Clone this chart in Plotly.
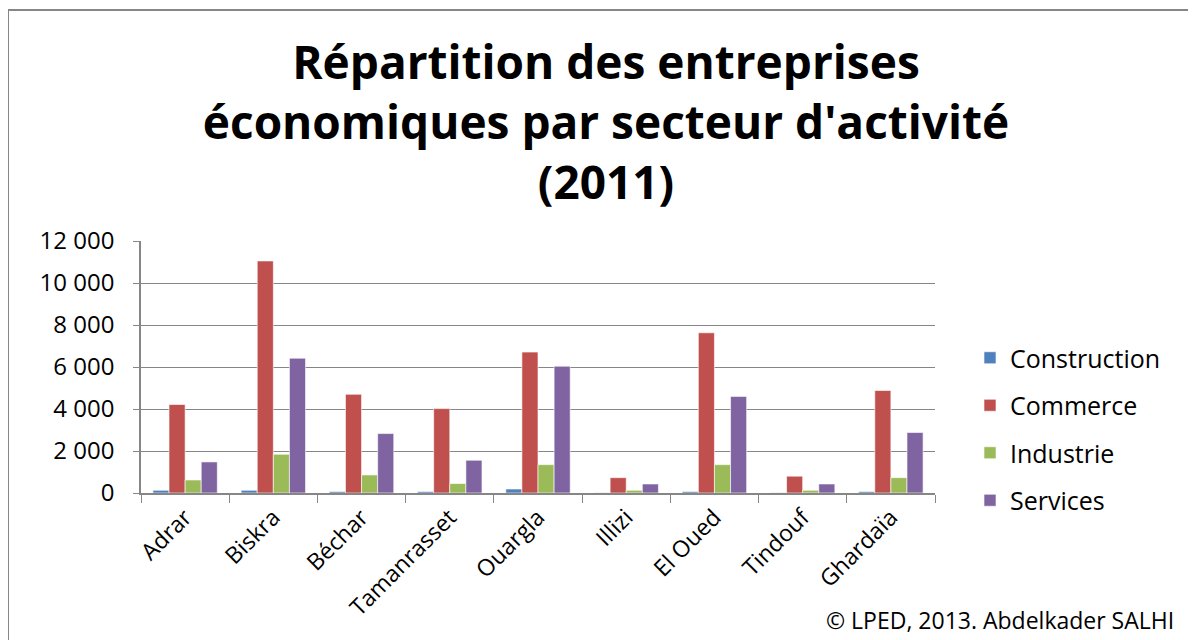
import plotly.graph_objects as go

# Wilayas et valeurs (nombre d'entreprises, 2011)
wilayas = ["Adrar", "Biskra", "Béchar", "Tamanrasset", "Ouargla", "Illizi", "El Oued", "Tindouf", "Ghardaïa"]
construction = [130, 130, 70, 70, 190, 10, 70, 10, 70]
commerce = [4215, 11050, 4700, 4020, 6710, 730, 7630, 800, 4880]
industrie = [620, 1845, 860, 450, 1350, 130, 1350, 130, 730]
services = [1480, 6420, 2830, 1560, 6040, 430, 4600, 430, 2880]

series = [
    ("Construction", construction, "#4F81BD"),
    ("Commerce", commerce, "#C0504D"),
    ("Industrie", industrie, "#9BBB59"),
    ("Services", services, "#8064A2"),
]

FONT = "'Open Sans', Lato, sans-serif"

fig = go.Figure()
for name, vals, color in series:
    fig.add_trace(go.Bar(
        x=wilayas, y=vals, name=name, legendgroup=name,
        marker=dict(color=color, line=dict(color="rgba(255,255,255,0.6)", width=1)),
    ))

# page body has an 8px margin, so screen px = figure px + 8
OFF = 8
W, H = 1196, 640
L, R, T, B = 141 - OFF, 935 - OFF, 241 - OFF, 493 - OFF
pw, ph = R - L, B - T

def px(x):
    return (x - OFF - L) / pw

def py(y):
    return (B - (y - OFF)) / ph

fig.update_layout(
    width=W, height=H,
    margin=dict(l=L, r=W - R, t=T, b=H - B),
    paper_bgcolor="white", plot_bgcolor="white",
    font=dict(family=FONT, size=22, color="#000000"),
    separators=", ",
    barmode="group", bargap=0.27, bargroupgap=0,
    title=dict(
        text="Répartition des entreprises<br>économiques par secteur d'activité<br>(2011)",
        x=(606 - OFF) / W, xanchor="center", y=1 - (79 - OFF) / H, yanchor="middle", yref="container",
        font=dict(family=FONT, size=46, color="#000000", weight="bold"),
    ),
    legend=dict(
        x=px(970), xanchor="left", y=py(335), yanchor="top",
        font=dict(size=25), tracegroupgap=12, itemwidth=30,
        bgcolor="rgba(0,0,0,0)",
    ),
    xaxis=dict(
        type="category", tickangle=-45, showgrid=False,
        showline=True, linecolor="#868686", linewidth=1.5,
        ticks="outside", tickson="boundaries", ticklen=8, tickcolor="#868686",
        tickfont=dict(size=23),
    ),
    yaxis=dict(
        range=[0, 12000], dtick=2000, tickformat=",d",
        showgrid=True, gridcolor="#868686", gridwidth=1,
        showline=True, linecolor="#868686", linewidth=1.5,
        ticks="outside", ticklen=6, tickcolor="#868686",
        ticklabelstandoff=14,
        zeroline=False, tickfont=dict(size=24),
    ),
    shapes=[dict(
        type="rect", xref="paper", yref="paper",
        x0=px(8), x1=px(1195), y0=py(648), y1=py(10),
        line=dict(color="#868686", width=2), layer="below",
    )],
    annotations=[dict(
        text="© LPED, 2013. Abdelkader SALHI", xref="paper", yref="paper",
        x=px(1176), y=py(620), xanchor="right", yanchor="middle", showarrow=False,
        font=dict(family=FONT, size=23, color="#000000"),
    )],
)

fig.write_html("out.html")
